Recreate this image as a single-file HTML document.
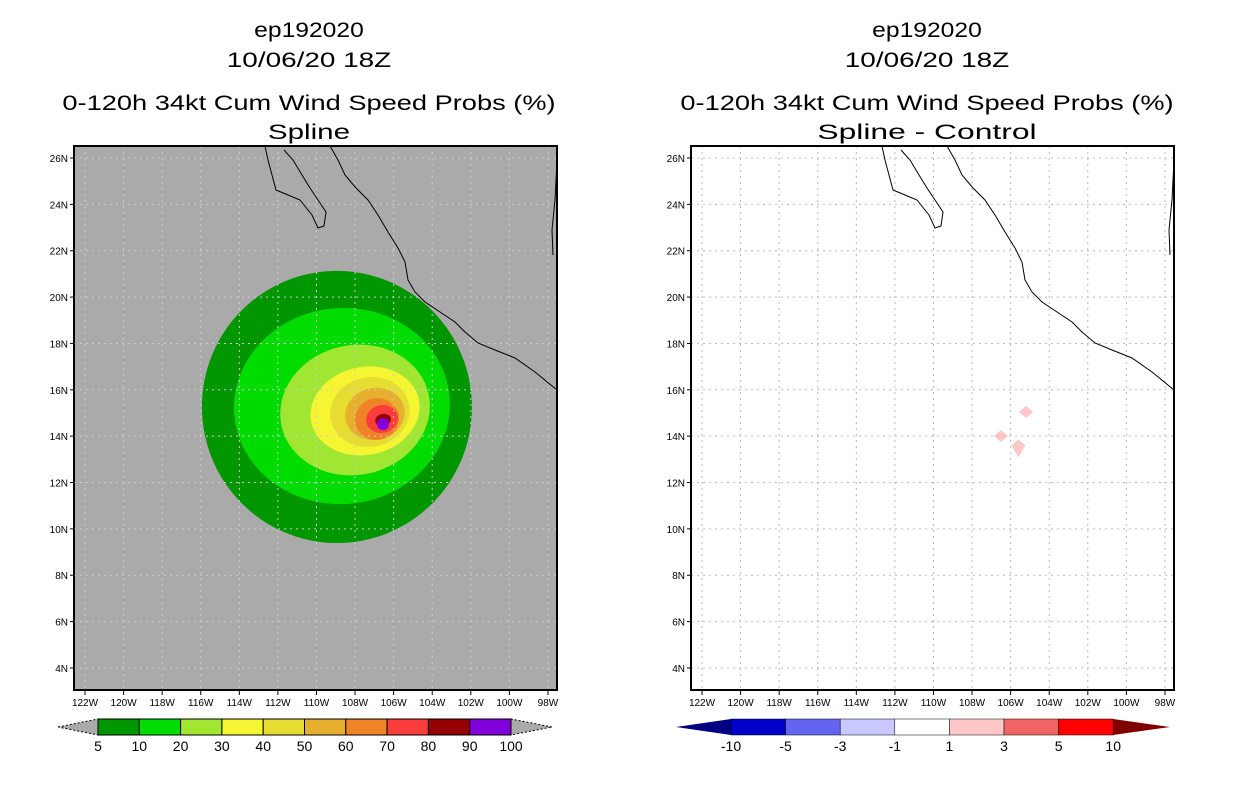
<!DOCTYPE html>
<html><head><meta charset="utf-8"><style>
body{margin:0;background:#fff;width:1236px;height:800px;overflow:hidden;font-family:"Liberation Sans",sans-serif}
svg text{font-family:"Liberation Sans",sans-serif}
</style></head><body>
<svg id="s" width="1236" height="800" xmlns="http://www.w3.org/2000/svg"></svg>
<script>
const levels=[5,10,20,30,40,50,60,70,80,90];
const colors=['#009600','#00dc00','#a0e632','#f5f532','#e6dc32','#e6af2d','#f08228','#fa3c3c','#960000','#8200dc'];
const cLon=[108.94,108.68,108.0,107.48,107.23,106.97,106.86,106.6,106.55,106.55];
const cLat=[15.26,15.3,15.13,15.09,15.04,14.96,14.74,14.74,14.7,14.52];
const rLon=[7.0,5.6,3.9,2.85,2.07,1.55,1.14,0.83,0.41,0.31];
const rLat=[5.87,4.23,2.8,1.9,1.5,1.12,0.9,0.6,0.26,0.26];
const latTicks=[26,24,22,20,18,16,14,12,10,8,6,4];
const lonTicks=[122,120,118,116,114,112,110,108,106,104,102,100,98];
const cb1Labels=['5','10','20','30','40','50','60','70','80','90','100'];
const cb2Labels=['-10','-5','-3','-1','1','3','5','10'];
const cb2Colors=['#0000c8','#6464f0','#c8c8ff','#ffffff','#ffc8c8','#f06464','#ff0000'];
const diffLon=[105.2,106.5,105.6];
const diffLat=[15.05,14.0,13.6];

const s=document.getElementById('s');const NS='http://www.w3.org/2000/svg';
function el(t,a,p){const e=document.createElementNS(NS,t);for(const k in a)e.setAttribute(k,a[k]);(p||s).appendChild(e);return e;}
function X(lon,ox){return ox+85-74+(122-lon)*19.29;}
function Y(lat){return 158+(26-lat)*23.18;}
const coast="M265,146 L268,160 L272,175 L276,190 L288,195 L300,200 L312,215 L318,228 L324,226 L326,212 L318,200 L310,188 L302,175 L293,160 L284,150 M330,146 L338,160 L345,175 L356,188 L368,200 L378,215 L388,232 L398,248 L405,262 L408,280 L415,292 L425,302 L440,312 L455,322 L465,332 L478,343 L495,350 L515,358 L535,372 L557,390 M557,160 L555,200 L552,230 L553,255";
function panel(ox,bg,name){
 const g=el('g',{});
 el('rect',{x:ox,y:146,width:483,height:544,fill:bg},g);
 if(bg!=='#fff'){levels.forEach((l,i)=>{const e=el('ellipse',{cx:X(cLon[i],ox),cy:Y(cLat[i]),rx:rLon[i]*19.29,ry:rLat[i]*23.18,fill:colors[i],transform:`rotate(${i>1?-12:-5} ${X(cLon[i],ox)} ${Y(cLat[i])})`},g);});}
 else{diffLon.forEach((lo,i)=>{const cx=X(lo,ox),cy=Y(diffLat[i]);const e=el('polygon',{points:`${cx-7},${cy} ${cx},${cy-6} ${cx+7},${cy} ${cx},${cy+(i==2?12:6)}`,fill:'#ffc8c8'},g);});}
 lonTicks.forEach(l=>{const x=X(l,ox);el('line',{x1:x,y1:146,x2:x,y2:690,stroke:bg==='#fff'?'#bbb':'#ccc','stroke-dasharray':'2,4'},g);el('line',{x1:x,y1:690,x2:x,y2:695,stroke:'#000'},g);const t=el('text',{x:x,y:706,'font-size':10,'text-anchor':'middle'},g);t.textContent=l+'W';});
 latTicks.forEach(l=>{const y=Y(l);el('line',{x1:ox,y1:y,x2:ox+483,y2:y,stroke:bg==='#fff'?'#bbb':'#ccc','stroke-dasharray':'2,4'},g);el('line',{x1:ox-4,y1:y,x2:ox,y2:y,stroke:'#000'},g);const t=el('text',{x:ox-6,y:y+4,'font-size':10,'text-anchor':'end'},g);t.textContent=l+'N';});
 el('path',{d:coast,transform:`translate(${ox-74},0)`,fill:'none',stroke:'#000','stroke-width':1},g);
 el('rect',{x:ox,y:146,width:483,height:544,fill:'none',stroke:'#000','stroke-width':2},g);
}
panel(74,'#aaa','left-map');panel(691,'#fff','right-map');
function title(cx,lines){lines.forEach((t,i)=>{const e=el('text',{x:cx,y:[37,67,110,139][i],'font-size':21,'text-anchor':'middle',textLength:t.length*13.7,lengthAdjust:'spacingAndGlyphs'});e.textContent=t;});}
title(309,['ep192020','10/06/20 18Z','0-120h 34kt Cum Wind Speed Probs (%)','Spline']);
title(927,['ep192020','10/06/20 18Z','0-120h 34kt Cum Wind Speed Probs (%)','Spline - Control']);
const cb=el('g',{});
el('polygon',{points:'58,727 98,719 98,735',fill:'#aaa',stroke:'#000','stroke-dasharray':'2,2'},cb);
el('polygon',{points:'552,727 511,719 511,735',fill:'#aaa',stroke:'#000','stroke-dasharray':'2,2'},cb);
colors.forEach((c,i)=>el('rect',{x:98+i*41.3,y:719,width:41.3,height:16,fill:c,stroke:'#000'},cb));
cb1Labels.forEach((l,i)=>{const t=el('text',{x:98+i*41.3,y:751,'font-size':14,'text-anchor':'middle'},cb);t.textContent=l;});
const cb2=el('g',{});
el('polygon',{points:'676,727 731,719 731,735',fill:'#000080'},cb2);
el('polygon',{points:'1170,727 1113,719 1113,735',fill:'#800000'},cb2);
cb2Colors.forEach((c,i)=>el('rect',{x:731+i*54.6,y:719,width:54.6,height:16,fill:c,stroke:'#000','stroke-width':0.5},cb2));
cb2Labels.forEach((l,i)=>{const t=el('text',{x:731+i*54.6,y:751,'font-size':14,'text-anchor':'middle'},cb2);t.textContent=l;});
</script>
</body></html>
